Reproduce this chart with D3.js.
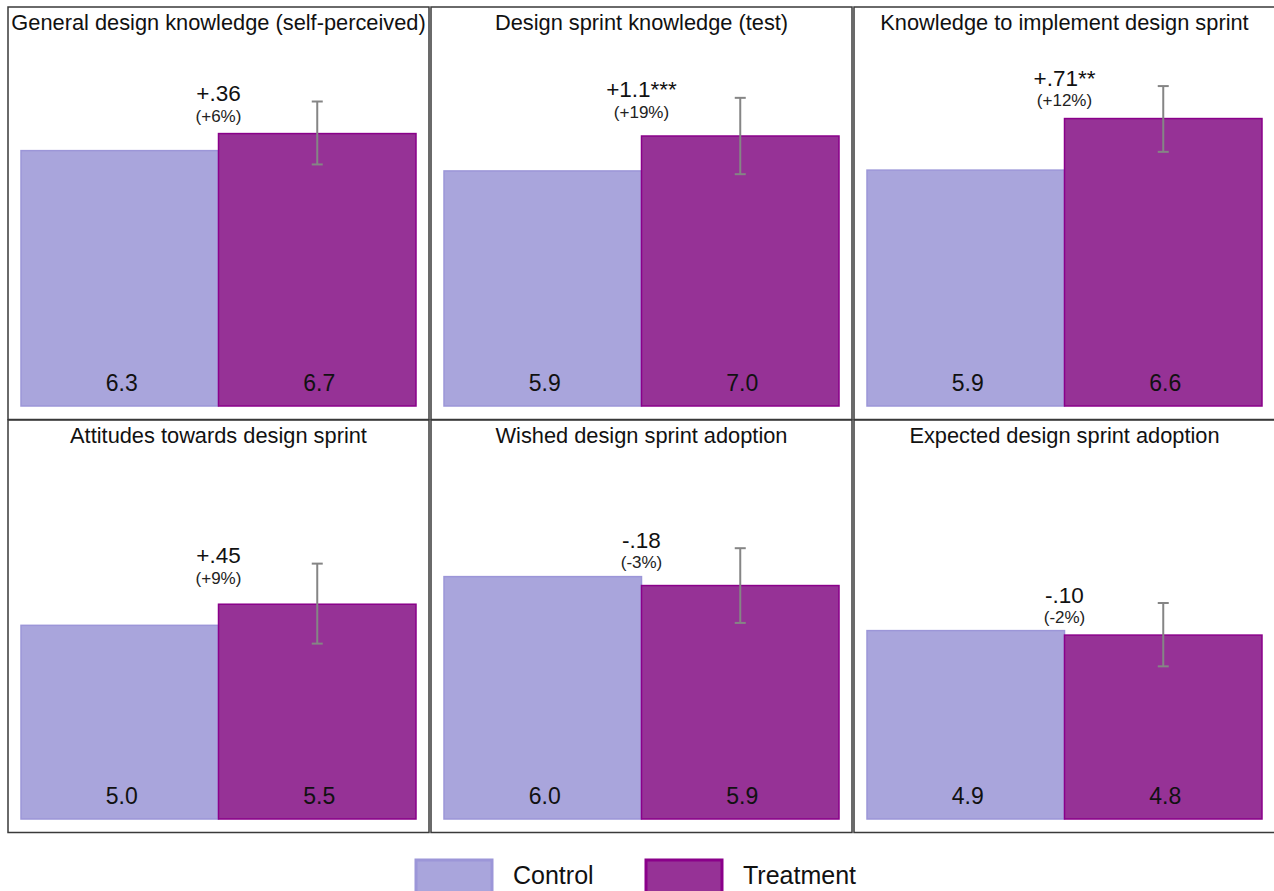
<!DOCTYPE html>
<html>
<head>
<meta charset="utf-8">
<script src="https://cdn.jsdelivr.net/npm/d3@7"></script>
<style>
  html, body { margin: 0; padding: 0; background: #fff; }
  svg { display: block; font-family: "Liberation Sans", Arial, sans-serif; }
</style>
</head>
<body>
<svg id="chart" width="1274" height="891"></svg>
<script>
// ---- data ----
const panelTitles = [
  "General design knowledge (self-perceived)",
  "Design sprint knowledge (test)",
  "Knowledge to implement design sprint",
  "Attitudes towards design sprint",
  "Wished design sprint adoption",
  "Expected design sprint adoption"
];
const groups = ["Control", "Treatment"];
const controlLabels   = ["6.3", "5.9", "5.9", "5.0", "6.0", "4.9"];
const treatmentLabels = ["6.7", "7.0", "6.6", "5.5", "5.9", "4.8"];
// bar heights as drawn (common 0-10 scale)
const controlBars   = [6.29, 5.79, 5.81, 4.77, 5.97, 4.64];
const treatmentBars = [6.71, 6.65, 7.08, 5.29, 5.75, 4.53];
const errLow  = [5.95, 5.71, 6.26, 4.32, 4.83, 3.76];
const errHigh = [7.50, 7.59, 7.88, 6.29, 6.67, 5.32];
const effects   = ["+.36", "+1.1", "+.71", "+.45", "-.18", "-.10"];
const stars     = ["", "***", "**", "", "", ""];
const effectPct = ["(+6%)", "(+19%)", "(+12%)", "(+9%)", "(-3%)", "(-2%)"];

// ---- styles ----
const colors = { Control: "#A9A5DC", Treatment: "#963296" };
const strokes = { Control: "#9C96D8", Treatment: "#8A008A" };

const svg = d3.select("#chart");
const panelW = 421, panelStep = 423, panelH = 412.5;
const rowTops = [7, 420];

panelTitles.forEach((title, i) => {
  const col = i % 3, row = Math.floor(i / 3);
  const left = 8 + col * panelStep;
  const top = rowTops[row];
  const bottom = top + 399;

  const g = svg.append("g");

  g.append("rect")
    .attr("x", left).attr("y", top)
    .attr("width", panelW).attr("height", panelH)
    .attr("fill", "none").attr("stroke", "#3a3a3a").attr("stroke-width", 1.5);

  g.append("text")
    .attr("x", left + panelW / 2).attr("y", top + 23)
    .attr("text-anchor", "middle")
    .attr("font-size", 21.8).attr("fill", "#111")
    .text(title);

  const x = d3.scaleBand().domain(groups).range([left + 13, left + panelW - 13]).padding(0);
  const y = d3.scaleLinear().domain([0, 10]).range([bottom, bottom - 406]);

  const vals = [
    { grp: "Control", v: controlBars[i], lab: controlLabels[i] },
    { grp: "Treatment", v: treatmentBars[i], lab: treatmentLabels[i] }
  ];

  g.selectAll("rect.bar").data(vals).enter().append("rect")
    .attr("class", "bar")
    .attr("x", d => x(d.grp)).attr("y", d => y(d.v))
    .attr("width", x.bandwidth()).attr("height", d => y(0) - y(d.v))
    .attr("fill", d => colors[d.grp])
    .attr("stroke", d => strokes[d.grp]).attr("stroke-width", 1.5);

  g.selectAll("text.val").data(vals).enter().append("text")
    .attr("class", "val")
    .attr("x", d => x(d.grp) + x.bandwidth() / 2 + 2)
    .attr("y", y(0) - 15.5)
    .attr("text-anchor", "middle")
    .attr("font-size", 23).attr("fill", "#111")
    .text(d => d.lab);

  // error bar
  const ex = x("Treatment") + x.bandwidth() / 2;
  const cap = 5.5;
  const eg = g.append("g").attr("stroke", "#858585").attr("stroke-width", 2);
  eg.append("line").attr("x1", ex).attr("x2", ex).attr("y1", y(errLow[i])).attr("y2", y(errHigh[i]));
  eg.append("line").attr("x1", ex - cap).attr("x2", ex + cap).attr("y1", y(errHigh[i])).attr("y2", y(errHigh[i]));
  eg.append("line").attr("x1", ex - cap).attr("x2", ex + cap).attr("y1", y(errLow[i])).attr("y2", y(errLow[i]));

  // effect annotation
  const ax = x("Treatment");
  const ay = y(errHigh[i]) - 0.5;
  g.append("text")
    .attr("x", ax).attr("y", ay)
    .attr("text-anchor", "middle")
    .attr("font-size", 22.5).attr("fill", "#111")
    .text(effects[i] + stars[i]);
  g.append("text")
    .attr("x", ax).attr("y", ay + 20.6)
    .attr("text-anchor", "middle")
    .attr("font-size", 17).attr("fill", "#222")
    .text(effectPct[i]);
});

// legend
const legend = svg.append("g");
const legendX = d3.scaleOrdinal().domain(groups).range([416, 646]);
groups.forEach(gname => {
  const lx = legendX(gname);
  legend.append("rect")
    .attr("x", lx).attr("y", 860)
    .attr("width", 76).attr("height", 34)
    .attr("fill", colors[gname])
    .attr("stroke", strokes[gname]).attr("stroke-width", 3);
  legend.append("text")
    .attr("x", lx + 97).attr("y", 884)
    .attr("font-size", 25).attr("fill", "#111")
    .text(gname);
});
</script>
</body>
</html>
